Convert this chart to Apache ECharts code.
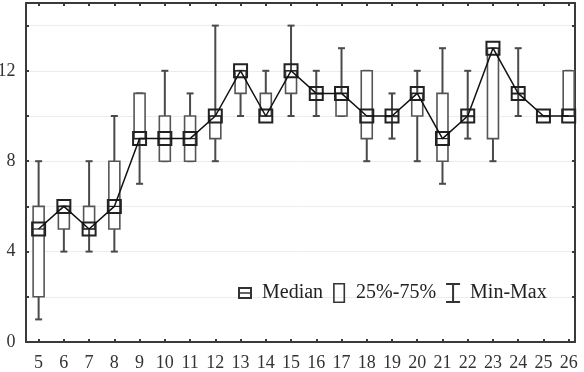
<!DOCTYPE html>
<html><head><meta charset="utf-8">
<script src="https://cdn.jsdelivr.net/npm/echarts@6/dist/echarts.min.js"></script>
<style>html,body{margin:0;padding:0;background:#fff}#c{width:584px;height:372px}</style>
</head><body><div id="c"></div>
<script>
const categories = [5,6,7,8,9,10,11,12,13,14,15,16,17,18,19,20,21,22,23,24,25,26];
const medians = [5,6,5,6,9,9,9,10,12,10,12,11,11,10,10,11,9,10,13,11,10,10];
const q1Values = [2,5,5,5,9,8,8,9,11,10,11,11,10,9,10,10,8,10,9,11,10,10];
const q3Values = [6,6,6,8,11,10,10,10,12,11,12,11,11,12,10,11,11,10,13,11,10,12];
const minValues = [1,4,4,4,7,8,8,8,10,10,10,10,10,8,9,8,7,9,8,10,10,10];
const maxValues = [8,6,8,10,11,12,11,14,12,12,14,12,13,12,11,12,13,12,13,13,10,12];
const yLabelValues = [0,4,8,12];

const FONT = 'Liberation Serif';
const AXIS_COLOR = '#3a3a3a';
const chart = echarts.init(document.getElementById('c'), null, {renderer:'canvas'});

const boxData = categories.map((c,i)=>[c,q1Values[i],q3Values[i]]);
const whiskerData = categories.map((c,i)=>[c,minValues[i],maxValues[i]]);
const medianData = categories.map((c,i)=>[c,medians[i]]);

const ICON_MED = 'path://M0,0H14V12H0Z M2,2V10H12V2Z M2,5.3H12V6.7H2Z';
const ICON_BOX = 'path://M0,0H12V20H0Z M1.6,1.6V18.4H10.4V1.6Z';
const ICON_WH = 'path://M0,0H14V2H8V18H14V20H0V18H6V2H0Z';

function xAxis(pos, showLabel){
  return {
    type:'value', position:pos, min:4.5, max:26.25,
    splitLine:{show:false},
    axisLine:{show:true, onZero:false, lineStyle:{color:AXIS_COLOR,width:2}},
    axisTick:{show:true, inside:true, length:3, customValues:categories, lineStyle:{color:AXIS_COLOR,width:2}},
    axisLabel:{show:showLabel, customValues:categories, margin:12, color:'#333', fontFamily:FONT, fontSize:18,
      formatter:v=>String(v)}
  };
}
function yAxis(pos, showLabel){
  return {
    type:'value', position:pos, min:0, max:15, interval:2,
    splitLine:{show:showLabel, lineStyle:{color:'#ececec',width:1}},
    axisLine:{show:true, onZero:false, lineStyle:{color:AXIS_COLOR,width:2}},
    axisTick:{show:true, inside:true, length:3, lineStyle:{color:AXIS_COLOR,width:2}},
    axisLabel:{show:showLabel, margin:10.5, color:'#333', fontFamily:FONT, fontSize:18,
      formatter:v=>yLabelValues.indexOf(v)>=0 ? String(v) : ''}
  };
}

const option = {
  animation:false,
  backgroundColor:'#fff',
  grid:{left:26, right:9, top:3, bottom:30, containLabel:false, outerBoundsMode:'none'},
  xAxis:[xAxis('bottom',true), xAxis('top',false)],
  yAxis:[yAxis('left',true), yAxis('right',false)],
  legend:{
    left:233, top:278, itemWidth:14, itemHeight:20, itemGap:10, selectedMode:false,
    textStyle:{fontFamily:FONT, fontSize:20, color:'#222', padding:[0,0,0,5]},
    data:[{name:'Median',icon:ICON_MED},{name:'25%-75%',icon:ICON_BOX},{name:'Min-Max',icon:ICON_WH}]
  },
  series:[
    {
      name:'Min-Max', type:'custom', silent:true, itemStyle:{color:'#333'},
      encode:{x:0,y:[1,2]}, data:whiskerData,
      renderItem(params, api){
        const x = api.value(0);
        const lo = api.coord([x, api.value(1)]);
        const hi = api.coord([x, api.value(2)]);
        const w = 3.5;
        const st = {stroke:'#4a4a4a', lineWidth:2};
        return {type:'group', children:[
          {type:'line', shape:{x1:lo[0],y1:lo[1],x2:hi[0],y2:hi[1]}, style:st},
          {type:'line', shape:{x1:lo[0]-w,y1:lo[1],x2:lo[0]+w,y2:lo[1]}, style:st},
          {type:'line', shape:{x1:hi[0]-w,y1:hi[1],x2:hi[0]+w,y2:hi[1]}, style:st}
        ]};
      }
    },
    {
      name:'25%-75%', type:'custom', silent:true, itemStyle:{color:'#333'},
      encode:{x:0,y:[1,2]}, data:boxData,
      renderItem(params, api){
        const x = api.value(0);
        const lo = api.coord([x, api.value(1)]);
        const hi = api.coord([x, api.value(2)]);
        const w = 5.5;
        return {type:'rect', shape:{x:lo[0]-w, y:hi[1], width:2*w, height:Math.max(lo[1]-hi[1],0.5)},
          style:{fill:'#fff', stroke:'#555', lineWidth:1.6}};
      }
    },
    {
      name:'medianLine', type:'line', silent:true, data:medianData, symbol:'none',
      lineStyle:{color:'#111', width:1.5}
    },
    {
      name:'Median', type:'custom', silent:true, itemStyle:{color:'#333'},
      encode:{x:0,y:1}, data:medianData,
      renderItem(params, api){
        const p = api.coord([api.value(0), api.value(1)]);
        const s = 6.5;
        return {type:'group', children:[
          {type:'rect', shape:{x:p[0]-s,y:p[1]-s,width:2*s,height:2*s}, style:{fill:'none', stroke:'#222', lineWidth:2}},
          {type:'line', shape:{x1:p[0]-s,y1:p[1],x2:p[0]+s,y2:p[1]}, style:{stroke:'#222', lineWidth:1.2}}
        ]};
      }
    }
  ]
};
chart.setOption(option);
</script></body></html>
